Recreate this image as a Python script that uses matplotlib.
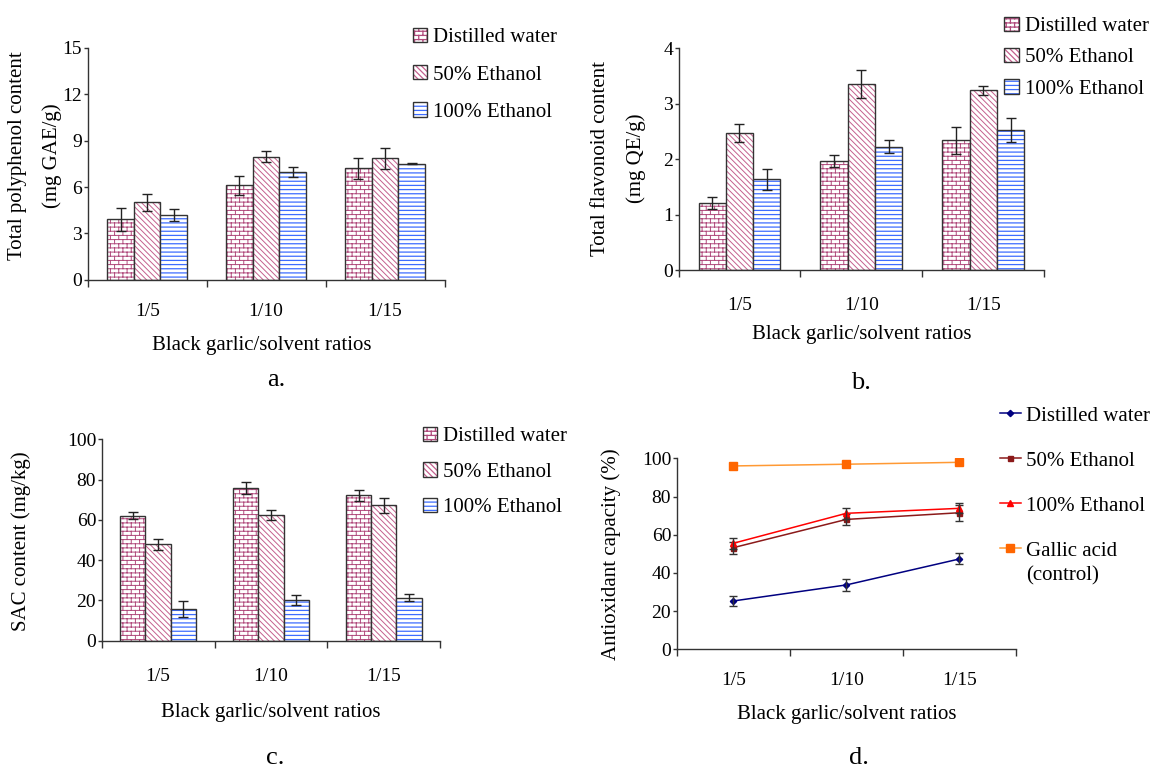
import numpy as np
import matplotlib
matplotlib.use("Agg")
import matplotlib.pyplot as plt
import matplotlib.hatch as mhatch
from matplotlib.path import Path

# ---- data ----
categories = ["1/5", "1/10", "1/15"]
solvents = ["Distilled water", "50% Ethanol", "100% Ethanol"]

# a. total polyphenol content (mg GAE/g)
tpc_water = [3.9, 6.1, 7.2]
tpc_50 = [5.0, 7.95, 7.85]
tpc_100 = [4.2, 6.95, 7.52]
tpc_err_water = [0.75, 0.6, 0.7]
tpc_err_50 = [0.58, 0.35, 0.69]
tpc_err_100 = [0.39, 0.32, 0.06]

# b. total flavonoid content (mg QE/g)
tfc_water = [1.21, 1.97, 2.34]
tfc_50 = [2.48, 3.36, 3.24]
tfc_100 = [1.64, 2.23, 2.53]
tfc_err_water = [0.105, 0.1, 0.25]
tfc_err_50 = [0.16, 0.25, 0.08]
tfc_err_100 = [0.19, 0.11, 0.21]

# c. SAC content (mg/kg)
sac_water = [62.1, 75.8, 72.2]
sac_50 = [47.8, 62.4, 67.2]
sac_100 = [15.9, 20.0, 21.4]
sac_err_water = [1.6, 3.0, 2.6]
sac_err_50 = [2.6, 2.5, 3.6]
sac_err_100 = [4.0, 2.5, 1.6]

# d. antioxidant capacity (%)
aox_water = [25.3, 33.7, 47.3]
aox_50 = [53.2, 68.0, 71.5]
aox_100 = [55.5, 71.2, 73.8]
aox_gallic = [96.0, 96.9, 97.9]
aox_err_water = [2.4, 3.1, 2.9]
aox_err_50 = [3.2, 3.0, 4.3]
aox_err_100 = [2.8, 2.8, 2.6]


# brick wall hatch, takes the place of '|' (not used otherwise here)
class BrickHatch(mhatch.HatchPatternBase):
    def __init__(self, hatch, density):
        n = int(hatch.count("|") * density)
        self.rows = n + n % 2
        self.num_vertices = 3 * self.rows + self.rows ** 2

    def set_vertices_and_codes(self, vertices, codes):
        n = self.rows
        h = 1.0 / n
        segs = []
        for i in range(n):
            y0 = (i + 0.5) * h
            segs.append(((0.0, y0), (1.0, y0)))
            off = (i % 2) * h + h / 2
            for j in range(n // 2):
                x = off + 2 * h * j
                segs.append(((x, y0), (x, min(y0 + h, 1.0))))
        # the top row wraps round to the bottom of the tile
        off = ((n - 1) % 2) * h + h / 2
        for j in range(n // 2):
            x = off + 2 * h * j
            segs.append(((x, 0.0), (x, h / 2)))
        vertices[:] = np.array(segs).reshape(-1, 2)
        codes[0::2] = Path.MOVETO
        codes[1::2] = Path.LINETO


mhatch._hatch_types[mhatch._hatch_types.index(mhatch.VerticalHatch)] = BrickHatch

plt.rcParams["font.family"] = ["Liberation Serif", "DejaVu Serif"]

W, H = 1152, 771
fig = plt.figure(figsize=(W / 100, H / 100), dpi=100)

edge = "#333333"
hatches = ["||||", "\\\\\\\\\\\\", "----"]
hatch_colors = ["#b04a7c", "#c4608e", "#3d6cff"]
hatch_lw = [0.7, 0.7, 0.9]
bar_w = 0.224
x = np.arange(len(categories))


def add_axes_px(left, top, right, bottom):
    return fig.add_axes([left / W, 1 - bottom / H, (right - left) / W, (bottom - top) / H])


def ftext(px, py, s, **kw):
    return fig.text(px / W, 1 - py / H, s, **kw)


def style_axes(ax, ylim, yticks, pad):
    ax.set_xlim(-0.5, 2.5)
    ax.set_ylim(*ylim)
    ax.set_yticks(yticks)
    ax.set_xticks([-0.5, 0.5, 1.5, 2.5], labels=[])
    ax.set_xticks(x, labels=categories, minor=True)
    ax.tick_params(axis="x", which="major", direction="out", length=5, width=1, color=edge)
    ax.tick_params(axis="x", which="minor", length=0, pad=pad, labelsize=14)
    ax.tick_params(axis="y", direction="out", length=3, width=1, pad=1, labelsize=14, color=edge)
    for s in ["top", "right"]:
        ax.spines[s].set_visible(False)
    for s in ["left", "bottom"]:
        ax.spines[s].set_color(edge)
        ax.spines[s].set_linewidth(1)


def bar_panel(ax, series, errors):
    handles = []
    for k, (vals, err) in enumerate(zip(series, errors)):
        pos = x + (k - 1) * bar_w
        plt.rcParams["hatch.linewidth"] = hatch_lw[k]
        hb = ax.bar(pos, vals, bar_w, color="white", edgecolor=hatch_colors[k],
                    hatch=hatches[k], linewidth=0)
        ob = ax.bar(pos, vals, bar_w, fill=False, edgecolor=edge, linewidth=1)
        ax.errorbar(pos, vals, yerr=err, fmt="none", ecolor="#222222",
                    elinewidth=1, capsize=3.5, capthick=1)
        handles.append((hb[0], ob[0]))
    return handles


def bar_legend(handles, left, top, spacing):
    fig.legend(handles, solvents, loc="upper left",
               bbox_to_anchor=(left / W, 1 - top / H), frameon=False,
               borderpad=0, borderaxespad=0, fontsize=15,
               handlelength=0.7, handleheight=0.68, handletextpad=0.27,
               labelspacing=spacing)


# ---- a. ----
ax_a = add_axes_px(87.7, 48, 444.5, 279.7)
h = bar_panel(ax_a, [tpc_water, tpc_50, tpc_100], [tpc_err_water, tpc_err_50, tpc_err_100])
style_axes(ax_a, (0, 15), np.arange(0, 16, 3), 17)
bar_legend(h, 412.7, 27.7, 0.86)
ftext(35, 156, "Total polyphenol content\n(mg GAE/g)", rotation=90, ha="center",
      va="center", multialignment="center", linespacing=2.1, fontsize=15)
ftext(261.7, 346, "Black garlic/solvent ratios", ha="center", va="center", fontsize=15)
ftext(276.7, 386, "a.", ha="center", va="baseline", fontsize=19)

# ---- b. ----
ax_b = add_axes_px(678.5, 48.3, 1044.4, 270.3)
h = bar_panel(ax_b, [tfc_water, tfc_50, tfc_100], [tfc_err_water, tfc_err_50, tfc_err_100])
style_axes(ax_b, (0, 4), np.arange(0, 5, 1), 19)
bar_legend(h, 1004.3, 16.7, 0.57)
ftext(618.4, 158.5, "Total flavonoid content\n(mg QE/g)", rotation=90, ha="center",
      va="center", multialignment="center", linespacing=2.05, fontsize=15)
ftext(861.7, 334, "Black garlic/solvent ratios", ha="center", va="center", fontsize=15)
ftext(861, 389, "b.", ha="center", va="baseline", fontsize=19)

# ---- c. ----
ax_c = add_axes_px(101.7, 439.3, 440.2, 640.7)
h = bar_panel(ax_c, [sac_water, sac_50, sac_100], [sac_err_water, sac_err_50, sac_err_100])
style_axes(ax_c, (0, 100), np.arange(0, 101, 20), 20)
bar_legend(h, 422.9, 427, 0.76)
ftext(21, 540.8, "SAC content (mg/kg)", rotation=90, ha="center", va="center", fontsize=15)
ftext(271, 713, "Black garlic/solvent ratios", ha="center", va="center", fontsize=15)
ftext(275.6, 764, "c.", ha="center", va="baseline", fontsize=19)

# ---- d. ----
ax_d = add_axes_px(676.7, 458.3, 1016, 649.3)
line_specs = [
    (aox_water, aox_err_water, "#000080", "D", 3.2),
    (aox_50, aox_err_50, "#8b1a1a", "s", 3.6),
    (aox_100, aox_err_100, "#ff0000", "^", 4.2),
]
d_handles = []
for vals, err, col, mk, ms in line_specs:
    ln, = ax_d.plot(x, vals, color=col, lw=1.1, marker=mk, ms=ms, mfc=col, mec=col)
    ax_d.errorbar(x, vals, yerr=err, fmt="none", ecolor="#333333",
                  elinewidth=1, capsize=3, capthick=1)
    d_handles.append(ln)
ln, = ax_d.plot(x, aox_gallic, color="#ff9933", lw=1.1, marker="s", ms=5.5,
                mfc="#ff6600", mec="#ff6600")
d_handles.append(ln)
style_axes(ax_d, (0, 100), np.arange(0, 101, 20), 16)
fig.legend(d_handles, solvents + ["Gallic acid"], loc="upper left",
           bbox_to_anchor=(1000 / W, 1 - 406 / H), frameon=False,
           borderpad=0, borderaxespad=0, fontsize=15,
           handlelength=1.0, handletextpad=0.24, labelspacing=1.22)
ftext(1025.7, 580.5, "(control)", ha="left", va="baseline", fontsize=15)
ftext(611, 554, "Antioxidant capacity (%)", rotation=90, ha="center", va="center", fontsize=15)
ftext(846.3, 715, "Black garlic/solvent ratios", ha="center", va="center", fontsize=15)
ftext(859, 764, "d.", ha="center", va="baseline", fontsize=19)

fig.savefig("out.png", dpi=100, facecolor="white")
